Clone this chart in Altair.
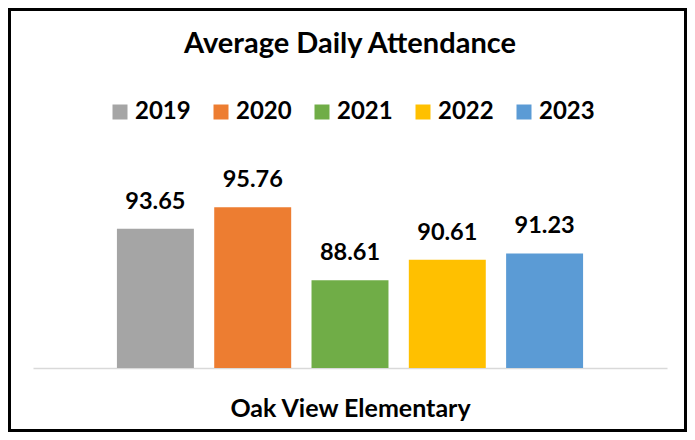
import altair as alt
import pandas as pd

years = ["2019", "2020", "2021", "2022", "2023"]
values = [93.65, 95.76, 88.61, 90.61, 91.23]
colors = ["#A5A5A5", "#ED7D31", "#70AD47", "#FFC000", "#5B9BD5"]
school = "Oak View Elementary"
title_text = "Average Daily Attendance"

df = pd.DataFrame({"year": years, "value": values, "school": [school] * len(years)})

W, H = 634, 204
PL, PT, PR, PB = 25, 156, 20, 64
FONT = "Lato"

base = alt.Chart(df)

x_enc = alt.X(
    "year:N",
    sort=years,
    scale=alt.Scale(paddingInner=0.209, paddingOuter=0.8625),
    axis=alt.Axis(
        title=school,
        labels=False,
        ticks=False,
        grid=False,
        domainColor="#d9d9d9",
        domainWidth=1.5,
        titleFont=FONT,
        titleFontSize=25,
        titleFontWeight="bold",
        titleColor="#000000",
        titleBaseline="alphabetic",
        titleY=48,
    ),
)
y_enc = alt.Y("value:Q", scale=alt.Scale(domain=[80, 100], zero=False, nice=False), axis=None)

bars = base.mark_bar().encode(
    x=x_enc,
    y=y_enc,
    y2=alt.datum(80),
    color=alt.Color(
        "year:N",
        sort=years,
        scale=alt.Scale(domain=years, range=colors),
        legend=alt.Legend(
            title=None,
            orient="none",
            direction="horizontal",
            legendX=75,
            legendY=-64,
            symbolType="square",
            symbolSize=225,
            symbolStrokeWidth=0,
            symbolOpacity=1,
            labelFont=FONT,
            labelFontSize=24,
            labelFontWeight="bold",
            labelColor="#000000",
            labelOffset=3,
            columnPadding=18,
            padding=0,
        ),
    ),
)

labels = base.mark_text(
    baseline="alphabetic", dy=-20, font=FONT, fontSize=23.5, fontWeight="bold", color="#000000"
).encode(
    x=alt.X("year:N", sort=years),
    y=alt.Y("value:Q"),
    text=alt.Text("value:Q", format=".2f"),
)

title_df = pd.DataFrame({"t": [title_text]})
title = alt.Chart(title_df).mark_text(
    baseline="alphabetic", align="center", font=FONT, fontSize=29, fontWeight="bold", color="#000000"
).encode(
    text="t:N",
    x=alt.value(W / 2),
    y=alt.value(53 - 8 - PT),
)

border = alt.Chart(pd.DataFrame({"k": [0]})).mark_rect(
    fill=None, stroke="#000000", strokeWidth=3
).encode(
    x=alt.value(-PL + 1.5),
    x2=alt.value(W + PR - 1.5),
    y=alt.value(-PT + 1.5),
    y2=alt.value(H + PB - 1.5),
)

chart = (
    alt.layer(bars, labels, title, border)
    .properties(
        width=W,
        height=H,
        background="#ffffff",
        autosize=alt.AutoSizeParams(type="none"),
        padding={"left": PL, "top": PT, "right": PR, "bottom": PB},
    )
    .configure_view(strokeWidth=0, stroke=None)
)

chart.save("out.html", embed_options={"renderer": "svg", "actions": False})
